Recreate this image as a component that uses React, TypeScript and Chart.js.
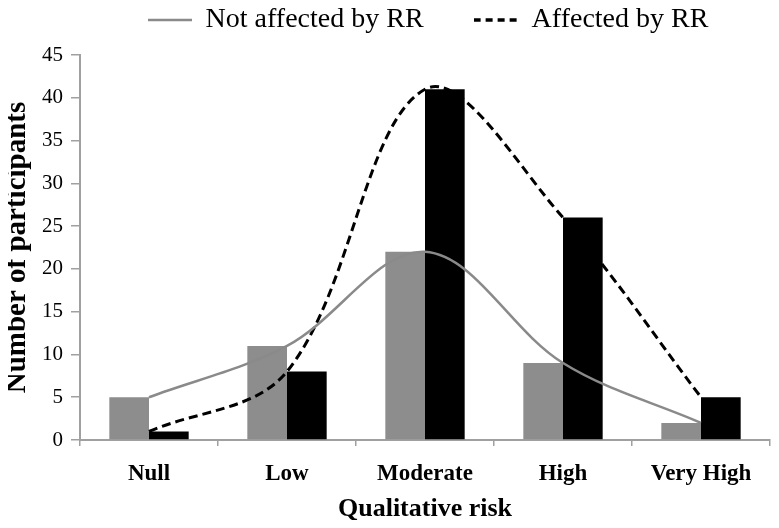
import React, { useEffect, useRef } from "react";
import { Chart, registerables } from "chart.js";

Chart.register(...registerables);

const categories = ["Null", "Low", "Moderate", "High", "Very High"];
const notAffected = [5, 11, 22, 9, 2];
const affected = [1, 8, 41, 26, 5];
const seriesNames = ["Not affected by RR", "Affected by RR"];
const yMax = 45;
const yStep = 5;
const xTitle = "Qualitative risk";
const yTitle = "Number of participants";

const SERIF = "'Liberation Serif', 'Times New Roman', serif";

function sampleImage(color: string, width: number, dash: number[]) {
  const c = document.createElement("canvas");
  c.width = 44;
  c.height = 6;
  const ctx = c.getContext("2d")!;
  ctx.strokeStyle = color;
  ctx.lineWidth = width;
  ctx.setLineDash(dash);
  ctx.beginPath();
  ctx.moveTo(0, 3);
  ctx.lineTo(44, 3);
  ctx.stroke();
  return c;
}

const legendShift = {
  id: "legendShift",
  afterLayout(chart: any) {
    const l = chart.legend;
    if (!l) return;
    l.left += 43;
    l.right += 43;
    l.top = -44;
  },
};

export default function App() {
  const ref = useRef<HTMLCanvasElement | null>(null);
  useEffect(() => {
    if (!ref.current) return;
    const solidImg = sampleImage("#8a8a8a", 2.5, []);
    const dashImg = sampleImage("#000000", 3.5, [7, 5]);
    const chart = new Chart(ref.current, {
      type: "bar",
      data: {
        labels: categories,
        datasets: [
          {
            type: "bar",
            label: seriesNames[0],
            data: notAffected,
            backgroundColor: "#8d8d8d",
            borderWidth: 0,
            order: 2,
          },
          {
            type: "bar",
            label: seriesNames[1],
            data: affected,
            backgroundColor: "#000000",
            borderWidth: 0,
            order: 2,
          },
          {
            type: "line",
            label: seriesNames[0],
            data: notAffected,
            borderColor: "#8a8a8a",
            backgroundColor: "#8a8a8a",
            borderWidth: 2.5,
            pointRadius: 0,
            tension: 0.35,
            fill: false,
            order: 1,
          },
          {
            type: "line",
            label: seriesNames[1],
            data: affected,
            borderColor: "#000000",
            backgroundColor: "#000000",
            borderWidth: 3,
            borderDash: [9, 5],
            pointRadius: 0,
            tension: 0.35,
            fill: false,
            order: 1,
          },
        ] as any,
      },
      options: {
        animation: false,
        responsive: false,
        maintainAspectRatio: false,
        layout: { padding: { left: 0, right: 9, top: 0, bottom: 0 } },
        datasets: {
          bar: { categoryPercentage: 0.575, barPercentage: 1 },
        } as any,
        plugins: {
          tooltip: { enabled: false },
          legend: {
            display: true,
            position: "top",
            maxHeight: 55,
            labels: {
              font: { family: SERIF, size: 28 },
              color: "#000",
              usePointStyle: true,
              pointStyleWidth: 44,
              padding: 50,
              generateLabels: (ch: any) =>
                (Chart.defaults.plugins.legend.labels as any)
                  .generateLabels(ch)
                  .filter((i: any) => i.datasetIndex >= 2)
                  .map((i: any) => ({
                    ...i,
                    pointStyle: i.datasetIndex === 2 ? solidImg : dashImg,
                  })),
            },
          } as any,
        },
        scales: {
          x: {
            grid: {
              display: true,
              drawOnChartArea: false,
              drawTicks: true,
              tickLength: 6,
              color: "#a0a0a0",
              lineWidth: 1.5,
              offset: true,
            },
            border: { color: "#a0a0a0", width: 2 },
            ticks: {
              font: { family: SERIF, size: 23, weight: "bold" },
              color: "#000",
              padding: 14,
              maxRotation: 0,
            },
            title: {
              display: true,
              text: xTitle,
              font: { family: SERIF, size: 26, weight: "bold" },
              color: "#000",
              padding: { top: 0, bottom: 3 },
            },
            afterFit: (s: any) => {
              s.width = s.width;
              s.height = 88;
            },
          },
          y: {
            min: 0,
            max: yMax,
            grid: {
              display: true,
              drawOnChartArea: false,
              drawTicks: true,
              tickLength: 9,
              color: "#a0a0a0",
              lineWidth: 1.5,
            },
            border: { color: "#a0a0a0", width: 2 },
            ticks: {
              stepSize: yStep,
              font: { family: SERIF, size: 21 },
              color: "#000",
              padding: 8,
            },
            title: {
              display: true,
              text: yTitle,
              font: { family: SERIF, size: 29, weight: "bold" },
              color: "#000",
              padding: { top: 0, bottom: 0 },
            },
            afterFit: (s: any) => {
              s.width = 80;
            },
          },
        },
      } as any,
      plugins: [legendShift],
    });
    return () => chart.destroy();
  }, []);
  return (
    <div style={{ margin: "-8px", width: 779, height: 528, background: "#fff" }}>
      <canvas ref={ref} width={779} height={528} style={{ display: "block" }} />
    </div>
  );
}
